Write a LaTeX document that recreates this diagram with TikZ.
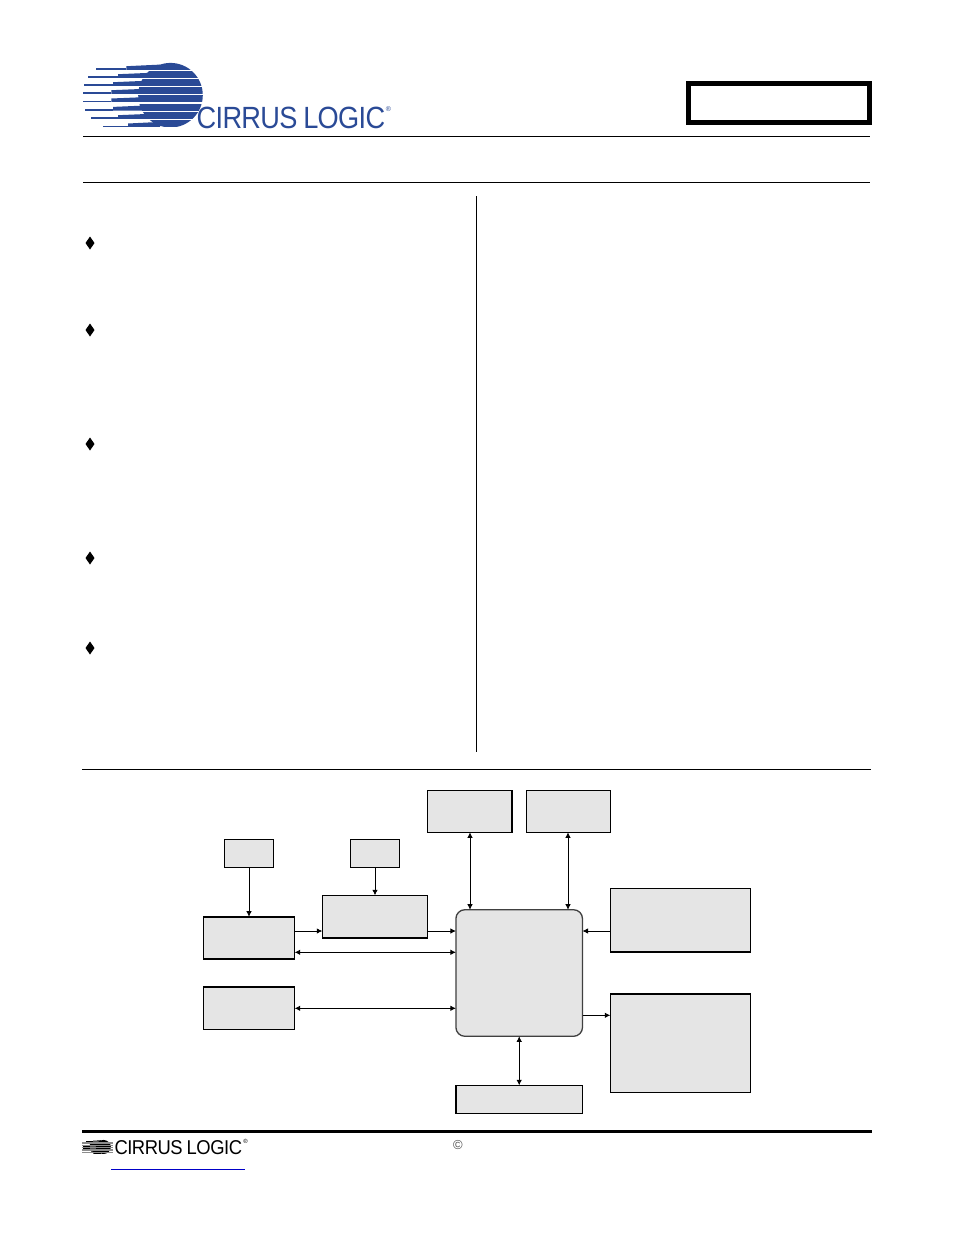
\documentclass[tikz,border=0pt]{standalone}
\usepackage{fontspec}
\setmainfont{Liberation Sans}
\newfontfamily\wordfont[LetterSpace=-2.5,WordSpace=0.85]{Liberation Sans}
\usetikzlibrary{arrows.meta}
\definecolor{logoblue}{HTML}{2A4A96}
\definecolor{boxgray}{HTML}{E5E5E5}
\definecolor{linkblue}{HTML}{0000C8}
\newcommand{\logomark}[2]{%
  \fill[#1] (170.5,95.2) circle[radius=32.3pt];
  \foreach \bb/\ff/\mm/\cc in {70/96.3/126.3/160,78/88/118/155,86/83.7/113/150,94/83/111.3/150,102.3/83/111.3/150,110.7/85.3/113/150,119/91.3/118/155,127.3/103/128/160}{
    \fill[#1] (\ff,\bb-1.6) rectangle (\mm,\bb);
    \fill[#1] (\mm,\bb-3.8) -- (\cc,\bb-5.4) -- (\cc,\bb) -- (\mm,\bb) -- cycle;
  }
  \foreach \bb in {70,78,86,94,102.3,110.7,119}{
    \fill[#2] (80,\bb) rectangle (210,\bb+1.4);
  }
  \fill[white] (80,127.4) rectangle (210,129);
}
\tikzset{
  box/.style={draw=black,fill=boxgray,line width=0.9pt,inner sep=0pt,outer sep=0pt,rectangle},
  core/.style={box,draw=black!75,line width=1.3pt,rounded corners=9pt},
  heavy/.style={line width=2pt,line cap=butt},
  rule/.style={line width=0.9pt},
  wire/.style={line width=0.8pt,-{Latex[length=5.5pt,width=5.5pt]}},
  biwire/.style={line width=0.8pt,{Latex[length=5.5pt,width=5.5pt]}-{Latex[length=5.5pt,width=5.5pt]}},
  bullet/.style={fill=black},
  wordmark/.style={inner sep=0pt,outer sep=0pt,anchor=base west}
}
\begin{document}
\begin{tikzpicture}[x=1pt,y=-1pt]
\useasboundingbox (0,0) rectangle (954,1235);
% header logo
\logomark{logoblue}{white}
\node[wordmark,text=logoblue,font=\wordfont\fontsize{30.7pt}{30.7pt}\selectfont,xscale=0.885] (mainlogo) at (196.7,128) {CIRRUS LOGIC};
\node[inner sep=0pt,text=logoblue,font=\fontsize{7pt}{7pt}\selectfont] (mainreg) at (388.5,109.5) {®};
% title frame
\node[draw=black,line width=5pt,fill=white,minimum width=181pt,minimum height=39pt,inner sep=0pt,outer sep=0pt] (title) at (779,103) {};
% rules
\draw[rule] (83,136.5) -- (870,136.5);
\draw[rule] (83,182.5) -- (870,182.5);
\draw[rule] (476.5,196) -- (476.5,752);
\draw[rule] (82,769.5) -- (871,769.5);
\draw[line width=3pt] (82,1131.5) -- (872,1131.5);
\draw[line width=1pt,linkblue] (111,1169) -- (245,1169);
% bullets
\foreach \y in {243,330,444,558,648}
  \fill[bullet] (90,\y-6.5) -- (94.5,\y) -- (90,\y+6.5) -- (85.5,\y) -- cycle;
% boxes
\node[box,minimum width=49.4pt,minimum height=28pt] (srca) at (249,853.3) {};
\node[box,minimum width=49.4pt,minimum height=28pt] (srcb) at (375,853.3) {};
\node[box,minimum width=91.4pt,minimum height=42.3pt] (left) at (249,937.85) {};
\node[box,minimum width=105.4pt,minimum height=43pt] (mid) at (375,916.8) {};
\node[box,minimum width=91.4pt,minimum height=42.6pt] (lower) at (249,1008) {};
\node[box,minimum width=85pt,minimum height=42.3pt] (topa) at (469.8,811.2) {};
\node[box,minimum width=84.4pt,minimum height=42.3pt] (topb) at (568.5,811.2) {};
\node[box,minimum width=140.4pt,minimum height=64pt] (rtop) at (680.5,920.3) {};
\node[box,minimum width=140.4pt,minimum height=99pt] (rbot) at (680.5,1043.2) {};
\node[box,minimum width=127pt,minimum height=28pt] (bott) at (519.2,1099.3) {};
\node[core,minimum width=126.6pt,minimum height=126.6pt] (cpu) at (519.2,973) {};
% heavier edges
\draw[heavy] (left.north west) -- (left.north east);
\draw[heavy] (left.south west) -- (left.south east);
\draw[heavy] (mid.south west) -- (mid.south east);
\draw[heavy] (lower.north west) -- (lower.north east);
\draw[heavy] (topa.north east) -- (topa.south east);
\draw[heavy] (rtop.south west) -- (rtop.south east);
\draw[heavy] (rbot.north west) -- (rbot.north east);
\draw[heavy] (bott.north west) -- (bott.south west);
% routing guides
\coordinate (rowa) at (0,931);
\coordinate (rowb) at (0,952.3);
\coordinate (rowc) at (0,1008.3);
\coordinate (rowd) at (0,1015.3);
\coordinate (cola) at (470,0);
\coordinate (colb) at (568,0);
% connectors
\draw[wire] (srca.south) -- (left.north);
\draw[wire] (srcb.south) -- (mid.north);
\draw[wire] (left.east |- rowa) -- (mid.west |- rowa);
\draw[wire] (mid.east |- rowa) -- (cpu.west |- rowa);
\draw[biwire] (left.east |- rowb) -- (cpu.west |- rowb);
\draw[biwire] (lower.east |- rowc) -- (cpu.west |- rowc);
\draw[biwire] (topa.south -| cola) -- (cpu.north -| cola);
\draw[biwire] (topb.south -| colb) -- (cpu.north -| colb);
\draw[wire] (rtop.west |- rowa) -- (cpu.east |- rowa);
\draw[wire] (cpu.east |- rowd) -- (rbot.west |- rowd);
\draw[biwire] (cpu.south) -- (bott.north);
% footer logo
\begin{scope}[shift={(63.6,1126.3)},xscale=0.233,yscale=0.217]
\logomark{black}{black!45}
\end{scope}
\node[wordmark,text=black,font=\wordfont\fontsize{20pt}{20pt}\selectfont,xscale=0.92] (footlogo) at (114.5,1154.3) {CIRRUS LOGIC};
\node[inner sep=0pt,font=\fontsize{6pt}{6pt}\selectfont] (footreg) at (245.5,1141.5) {®};
\node[inner sep=0pt,text=black!70,font=\fontsize{13pt}{13pt}\selectfont] (copy) at (458,1145) {©};
\end{tikzpicture}
\end{document}
